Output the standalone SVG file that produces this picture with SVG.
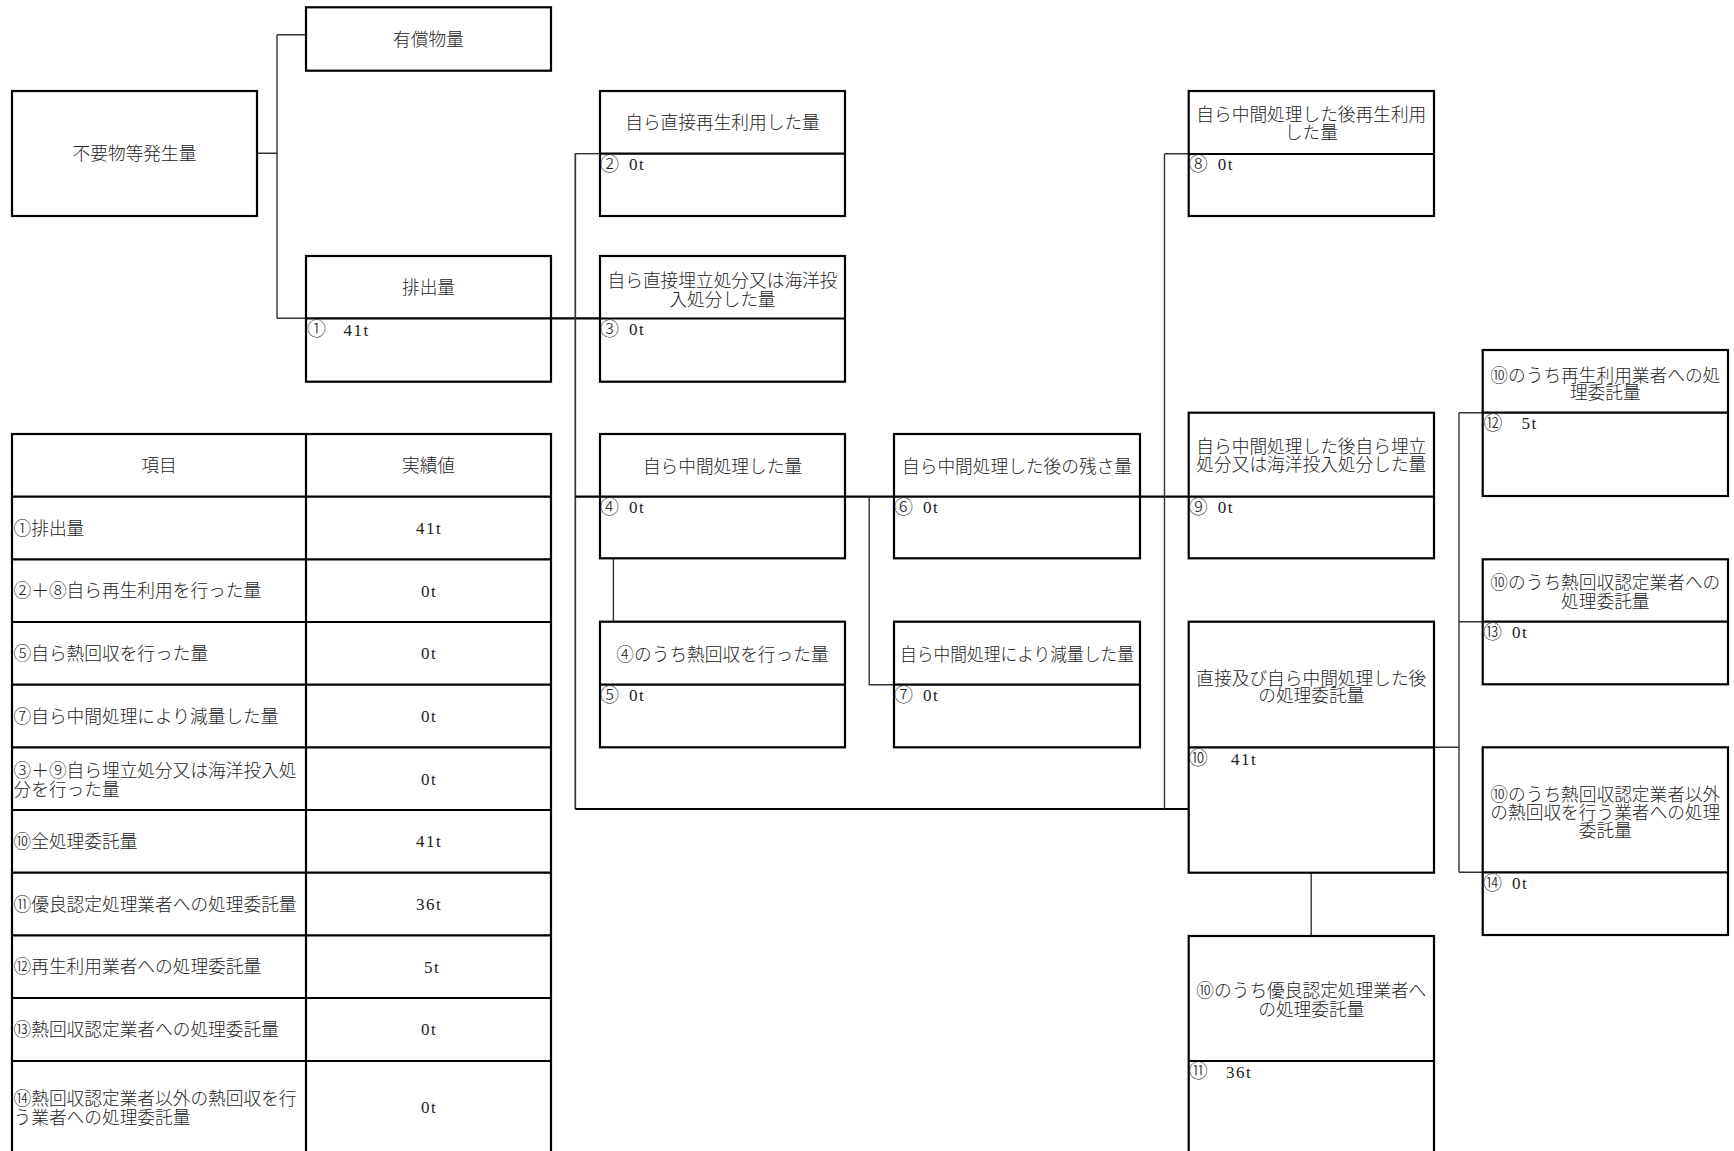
<svg xmlns="http://www.w3.org/2000/svg" width="1734" height="1151" viewBox="0 0 1734 1151">
<style>
.bg{fill:#fff}
.box{fill:#fff;stroke:#000;stroke-width:2.2}
.dv{stroke:#000;stroke-width:2.2}
.c{fill:none;stroke:#333;stroke-width:1.4}
.ct{fill:none;stroke:#000;stroke-width:2.2}
text{font-family:"Noto Sans CJK JP","Liberation Serif",sans-serif;fill:#222;font-weight:300}
.l{font-size:17.7px;text-anchor:middle}
.t{font-size:17.7px}
.v{font-size:17px}
.n{font-family:"Noto Sans CJK JP",sans-serif;font-size:19px}
.d{font-family:"Liberation Serif",serif;letter-spacing:1.5px;font-weight:400}
.tv{font-family:"Liberation Serif",serif;font-size:17px;letter-spacing:1.5px;text-anchor:middle;font-weight:400}
</style>
<rect class="bg" x="0" y="0" width="1734" height="1151"/>

<g id="connectors">
<path class="c" d="M257,153.3H277M277,34.7V318.3M277,34.7H306M277,318.3H306"/>
<path class="ct" d="M551,318.3H600"/>
<path class="c" style="stroke-width:1.7" d="M575.3,153.5V809"/>
<path class="c" d="M575.3,153.7H600"/>
<path class="ct" d="M575.3,496.7H600M845,496.7H894M1140,496.7H1188.7M575.3,809H1188.7"/>
<path class="c" d="M613.4,558.3V621.7"/>
<path class="c" d="M869.2,496.7V684.7H894"/>
<path class="c" d="M1164.5,153.7V809M1164.5,153.7H1188.7"/>
<path class="c" d="M1434,747.3H1459M1459,412.7V872.3M1459,412.7H1482.7M1459,621.7H1482.7M1459,872.3H1482.7"/>
<path class="c" d="M1311.2,872.7V936"/>
</g>

<g id="n-fuyoubutsu">
<rect class="box" x="12" y="91" width="245" height="125"/>
<text class="l" x="134.5" y="159.8">不要物等発生量</text>
</g>

<g id="n-yushou">
<rect class="box" x="306" y="7.3" width="245" height="63.4"/>
<text class="l" x="428.5" y="45.5">有償物量</text>
</g>

<g id="n1">
<rect class="box" x="306" y="256" width="245" height="125.7"/>
<line class="dv" x1="306" y1="318.3" x2="551" y2="318.3"/>
<text class="l" x="428.5" y="293.8">排出量</text>
<text class="v"><tspan class="n" x="307" y="336">①</tspan><tspan class="d" x="343.5" y="335.5">41t</tspan></text>
</g>

<g id="n2">
<rect class="box" x="600" y="91" width="245" height="125"/>
<line class="dv" x1="600" y1="153.7" x2="845" y2="153.7"/>
<text class="l" x="722.5" y="129">自ら直接再生利用した量</text>
<text class="v"><tspan class="n" x="600" y="170.5">②</tspan><tspan class="d" x="629" y="170">0t</tspan></text>
</g>

<g id="n3">
<rect class="box" x="600" y="256" width="245" height="125.7"/>
<line class="dv" x1="600" y1="318.5" x2="845" y2="318.5"/>
<text class="l" x="722.5" y="286.5">自ら直接埋立処分又は海洋投<tspan x="722.5" dy="19">入処分した量</tspan></text>
<text class="v"><tspan class="n" x="600" y="335.5">③</tspan><tspan class="d" x="629" y="335">0t</tspan></text>
</g>

<g id="n4">
<rect class="box" x="600" y="434" width="245" height="124.3"/>
<line class="dv" x1="600" y1="496.7" x2="845" y2="496.7"/>
<text class="l" x="722.5" y="472.5">自ら中間処理した量</text>
<text class="v"><tspan class="n" x="600" y="513.5">④</tspan><tspan class="d" x="629" y="513">0t</tspan></text>
</g>

<g id="n5">
<rect class="box" x="600" y="621.7" width="245" height="125.6"/>
<line class="dv" x1="600" y1="684.7" x2="845" y2="684.7"/>
<text class="l" x="722.5" y="660.5">④のうち熱回収を行った量</text>
<text class="v"><tspan class="n" x="600" y="701.5">⑤</tspan><tspan class="d" x="629" y="701">0t</tspan></text>
</g>

<g id="n6">
<rect class="box" x="894" y="434" width="246" height="124.3"/>
<line class="dv" x1="894" y1="496.7" x2="1140" y2="496.7"/>
<text class="l" x="1017" y="472.5">自ら中間処理した後の残さ量</text>
<text class="v"><tspan class="n" x="894" y="513.5">⑥</tspan><tspan class="d" x="923" y="513">0t</tspan></text>
</g>

<g id="n7">
<rect class="box" x="894" y="621.7" width="246" height="125.6"/>
<line class="dv" x1="894" y1="684.7" x2="1140" y2="684.7"/>
<text class="l" x="1017" y="660.5" textLength="234" lengthAdjust="spacingAndGlyphs">自ら中間処理により減量した量</text>
<text class="v"><tspan class="n" x="894" y="701.5">⑦</tspan><tspan class="d" x="923" y="701">0t</tspan></text>
</g>

<g id="n8">
<rect class="box" x="1188.7" y="91" width="245.3" height="125"/>
<line class="dv" x1="1188.7" y1="154" x2="1434" y2="154"/>
<text class="l" x="1311.3" y="120.8">自ら中間処理した後再生利用<tspan x="1311.3" dy="18.5">した量</tspan></text>
<text class="v"><tspan class="n" x="1188.7" y="170.5">⑧</tspan><tspan class="d" x="1217.7" y="170">0t</tspan></text>
</g>

<g id="n9">
<rect class="box" x="1188.7" y="412.7" width="245.3" height="145.6"/>
<line class="dv" x1="1188.7" y1="496.7" x2="1434" y2="496.7"/>
<text class="l" x="1311.3" y="453.2">自ら中間処理した後自ら埋立<tspan x="1311.3" dy="17.8">処分又は海洋投入処分した量</tspan></text>
<text class="v"><tspan class="n" x="1188.7" y="513.5">⑨</tspan><tspan class="d" x="1217.7" y="513">0t</tspan></text>
</g>

<g id="n10">
<rect class="box" x="1188.7" y="621.7" width="245.3" height="251"/>
<line class="dv" x1="1188.7" y1="747.3" x2="1434" y2="747.3"/>
<text class="l" x="1311.3" y="684.8">直接及び自ら中間処理した後<tspan x="1311.3" dy="17.2">の処理委託量</tspan></text>
<text class="v"><tspan class="n" x="1188.7" y="765">⑩</tspan><tspan class="d" x="1231" y="764.5">41t</tspan></text>
</g>

<g id="n11">
<rect class="box" x="1188.7" y="936" width="245.3" height="230"/>
<line class="dv" x1="1188.7" y1="1061" x2="1434" y2="1061"/>
<text class="l" x="1311.3" y="997.2">⑩のうち優良認定処理業者へ<tspan x="1311.3" dy="18.5">の処理委託量</tspan></text>
<text class="v"><tspan class="n" x="1188.7" y="1078">⑪</tspan><tspan class="d" x="1226" y="1077.5">36t</tspan></text>
</g>

<g id="n12">
<rect class="box" x="1482.7" y="350" width="245.3" height="146"/>
<line class="dv" x1="1482.7" y1="412.7" x2="1728" y2="412.7"/>
<text class="l" x="1605.3" y="381.5">⑩のうち再生利用業者への処<tspan x="1605.3" dy="17.8">理委託量</tspan></text>
<text class="v"><tspan class="n" x="1483.5" y="429.5">⑫</tspan><tspan class="d" x="1521.6" y="429">5t</tspan></text>
</g>

<g id="n13">
<rect class="box" x="1482.7" y="559.3" width="245.3" height="125"/>
<line class="dv" x1="1482.7" y1="621.7" x2="1728" y2="621.7"/>
<text class="l" x="1605.3" y="589.2">⑩のうち熱回収認定業者への<tspan x="1605.3" dy="18.8">処理委託量</tspan></text>
<text class="v"><tspan class="n" x="1483" y="638.5">⑬</tspan><tspan class="d" x="1512" y="638">0t</tspan></text>
</g>

<g id="n14">
<rect class="box" x="1482.7" y="747.3" width="245.3" height="187.7"/>
<line class="dv" x1="1482.7" y1="872.3" x2="1728" y2="872.3"/>
<text class="l" x="1605.3" y="800.5">⑩のうち熱回収認定業者以外<tspan x="1605.3" dy="18.3">の熱回収を行う業者への処理</tspan><tspan x="1605.3" dy="18">委託量</tspan></text>
<text class="v"><tspan class="n" x="1483" y="889.5">⑭</tspan><tspan class="d" x="1512" y="889">0t</tspan></text>
</g>

<g id="summary-table">
<rect class="box" x="12" y="434" width="539" height="732"/>
<path class="dv" d="M306,434V1166M12,496.7H551M12,559.3H551M12,622H551M12,684.7H551M12,747.3H551M12,810H551M12,872.7H551M12,935.3H551M12,998H551M12,1061H551"/>
<text class="l" x="159" y="472">項目</text>
<text class="l" x="428.5" y="472">実績値</text>
<text class="t" x="13.5" y="534.7">①排出量</text>
<text class="tv" x="429" y="534">41t</text>
<text class="t" x="13.5" y="597.4">②＋⑧自ら再生利用を行った量</text>
<text class="tv" x="429" y="596.7">0t</text>
<text class="t" x="13.5" y="660">⑤自ら熱回収を行った量</text>
<text class="tv" x="429" y="659.3">0t</text>
<text class="t" x="13.5" y="722.7">⑦自ら中間処理により減量した量</text>
<text class="tv" x="429" y="722">0t</text>
<text class="t" x="13.5" y="776.7">③＋⑨自ら埋立処分又は海洋投入処<tspan x="13.5" dy="19.3">分を行った量</tspan></text>
<text class="tv" x="429" y="785">0t</text>
<text class="t" x="13.5" y="848">⑩全処理委託量</text>
<text class="tv" x="429" y="847.3">41t</text>
<text class="t" x="13.5" y="910.7">⑪優良認定処理業者への処理委託量</text>
<text class="tv" x="429" y="910">36t</text>
<text class="t" x="13.5" y="973.3">⑫再生利用業者への処理委託量</text>
<text class="tv" x="432" y="972.7">5t</text>
<text class="t" x="13.5" y="1036">⑬熱回収認定業者への処理委託量</text>
<text class="tv" x="429" y="1035.3">0t</text>
<text class="t" x="13.5" y="1105">⑭熱回収認定業者以外の熱回収を行<tspan x="13.5" dy="19.4">う業者への処理委託量</tspan></text>
<text class="tv" x="429" y="1112.7">0t</text>
</g>
</svg>
